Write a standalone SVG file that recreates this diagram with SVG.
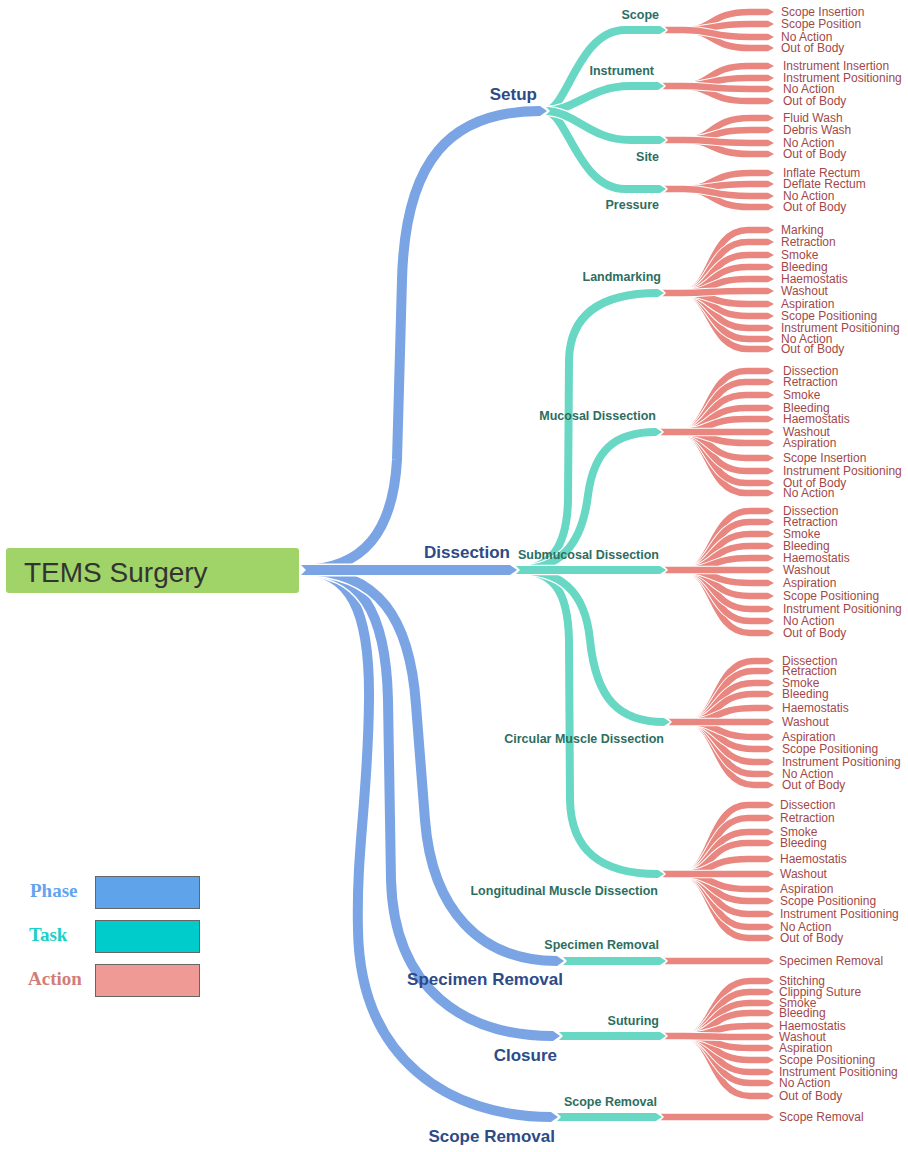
<svg xmlns="http://www.w3.org/2000/svg" width="908" height="1152" viewBox="0 0 908 1152">
<style>
marker{overflow:visible}
.pw{fill:none;stroke:#fff;stroke-width:13}
.p{fill:none;stroke:#7ba4e4;stroke-width:10;marker-end:url(#mp);marker-start:url(#np)}
.tw{fill:none;stroke:#fff;stroke-width:10.5}
.t{fill:none;stroke:#68d8c4;stroke-width:8;marker-end:url(#mt);marker-start:url(#nt)}
.aw{fill:none;stroke:#fff;stroke-width:8.5}
.a{fill:none;stroke:#e8867f;stroke-width:6.5;marker-end:url(#ma);marker-start:url(#na)}
text{font-family:"Liberation Sans",Arial,sans-serif}
.pl{font-size:17px;font-weight:bold;fill:#2e4a87;text-anchor:end}
.tl{font-size:12.5px;font-weight:bold;fill:#2e6e5f;text-anchor:end}
.al{font-size:12px;fill:#a34848;dominant-baseline:central}
.lg{font-family:"Liberation Serif","Times New Roman",serif;font-size:19px;font-weight:bold}
</style>
<defs>
<marker id="mp" markerUnits="userSpaceOnUse" markerWidth="8" markerHeight="12" refX="0" refY="6" orient="auto"><path d="M0,1L7,6L0,11Z" fill="#7ba4e4"/></marker>
<marker id="np" markerUnits="userSpaceOnUse" markerWidth="8" markerHeight="14" refX="0" refY="6" orient="auto"><path d="M-0.5,-0.5L6,6L-0.5,12.5Z" fill="#fff"/></marker>
<marker id="mt" markerUnits="userSpaceOnUse" markerWidth="8" markerHeight="10" refX="0" refY="5" orient="auto"><path d="M0,1L6,5L0,9Z" fill="#68d8c4"/></marker>
<marker id="nt" markerUnits="userSpaceOnUse" markerWidth="8" markerHeight="12" refX="0" refY="5" orient="auto"><path d="M-0.5,-0.5L5,5L-0.5,10.5Z" fill="#fff"/></marker>
<marker id="ma" markerUnits="userSpaceOnUse" markerWidth="7" markerHeight="8" refX="0" refY="4" orient="auto"><path d="M0,0.75L6,4L0,7.25Z" fill="#e8867f"/></marker>
<marker id="na" markerUnits="userSpaceOnUse" markerWidth="6" markerHeight="9" refX="0" refY="4" orient="auto"><path d="M-0.5,-0.5L4,4L-0.5,8.5Z" fill="#fff"/></marker>
</defs>
<rect width="908" height="1152" fill="#fff"/>

<g id="connectors">
<g id="action-links">
<!-- Scope -->
<path class="aw" d="M664,30L684,30C714,30 710,12 750,12L768,12"/><path class="a" d="M664,30L684,30C714,30 710,12 750,12L768,12"/>
<path class="aw" d="M664,30L684,30C714,30 710,48 750,48L768,48"/><path class="a" d="M664,30L684,30C714,30 710,48 750,48L768,48"/>
<path class="aw" d="M664,30L684,30C714,30 710,24 750,24L768,24"/><path class="a" d="M664,30L684,30C714,30 710,24 750,24L768,24"/>
<path class="aw" d="M664,30L684,30C714,30 710,37 750,37L768,37"/><path class="a" d="M664,30L684,30C714,30 710,37 750,37L768,37"/>
<!-- Instrument -->
<path class="aw" d="M662,86L682,86C712,86 708,66 748,66L768,66"/><path class="a" d="M662,86L682,86C712,86 708,66 748,66L768,66"/>
<path class="aw" d="M662,86L682,86C712,86 708,101 748,101L768,101"/><path class="a" d="M662,86L682,86C712,86 708,101 748,101L768,101"/>
<path class="aw" d="M662,86L682,86C712,86 708,78 748,78L768,78"/><path class="a" d="M662,86L682,86C712,86 708,78 748,78L768,78"/>
<path class="aw" d="M662,86L682,86C712,86 708,89 748,89L768,89"/><path class="a" d="M662,86L682,86C712,86 708,89 748,89L768,89"/>
<!-- Site -->
<path class="aw" d="M664,140L684,140C714,140 710,118 750,118L768,118"/><path class="a" d="M664,140L684,140C714,140 710,118 750,118L768,118"/>
<path class="aw" d="M664,140L684,140C714,140 710,154 750,154L768,154"/><path class="a" d="M664,140L684,140C714,140 710,154 750,154L768,154"/>
<path class="aw" d="M664,140L684,140C714,140 710,130 750,130L768,130"/><path class="a" d="M664,140L684,140C714,140 710,130 750,130L768,130"/>
<path class="aw" d="M664,140L684,140C714,140 710,143 750,143L768,143"/><path class="a" d="M664,140L684,140C714,140 710,143 750,143L768,143"/>
<!-- Pressure -->
<path class="aw" d="M664,189L684,189C714,189 710,173 750,173L768,173"/><path class="a" d="M664,189L684,189C714,189 710,173 750,173L768,173"/>
<path class="aw" d="M664,189L684,189C714,189 710,207 750,207L768,207"/><path class="a" d="M664,189L684,189C714,189 710,207 750,207L768,207"/>
<path class="aw" d="M664,189L684,189C714,189 710,184 750,184L768,184"/><path class="a" d="M664,189L684,189C714,189 710,184 750,184L768,184"/>
<path class="aw" d="M664,189L684,189C714,189 710,196 750,196L768,196"/><path class="a" d="M664,189L684,189C714,189 710,196 750,196L768,196"/>
<!-- Landmarking -->
<path class="aw" d="M662,293L682,293C712,293 708,230 748,230L768,230"/><path class="a" d="M662,293L682,293C712,293 708,230 748,230L768,230"/>
<path class="aw" d="M662,293L682,293C712,293 708,349 748,349L768,349"/><path class="a" d="M662,293L682,293C712,293 708,349 748,349L768,349"/>
<path class="aw" d="M662,293L682,293C712,293 708,242 748,242L768,242"/><path class="a" d="M662,293L682,293C712,293 708,242 748,242L768,242"/>
<path class="aw" d="M662,293L682,293C712,293 708,339 748,339L768,339"/><path class="a" d="M662,293L682,293C712,293 708,339 748,339L768,339"/>
<path class="aw" d="M662,293L682,293C712,293 708,255 748,255L768,255"/><path class="a" d="M662,293L682,293C712,293 708,255 748,255L768,255"/>
<path class="aw" d="M662,293L682,293C712,293 708,328 748,328L768,328"/><path class="a" d="M662,293L682,293C712,293 708,328 748,328L768,328"/>
<path class="aw" d="M662,293L682,293C712,293 708,267 748,267L768,267"/><path class="a" d="M662,293L682,293C712,293 708,267 748,267L768,267"/>
<path class="aw" d="M662,293L682,293C712,293 708,316 748,316L768,316"/><path class="a" d="M662,293L682,293C712,293 708,316 748,316L768,316"/>
<path class="aw" d="M662,293L682,293C712,293 708,279 748,279L768,279"/><path class="a" d="M662,293L682,293C712,293 708,279 748,279L768,279"/>
<path class="aw" d="M662,293L682,293C712,293 708,304 748,304L768,304"/><path class="a" d="M662,293L682,293C712,293 708,304 748,304L768,304"/>
<path class="aw" d="M662,293L682,293C712,293 708,291 748,291L768,291"/><path class="a" d="M662,293L682,293C712,293 708,291 748,291L768,291"/>
<!-- Mucosal -->
<path class="aw" d="M660,432L680,432C710,432 706,371 746,371L768,371"/><path class="a" d="M660,432L680,432C710,432 706,371 746,371L768,371"/>
<path class="aw" d="M660,432L680,432C710,432 706,493 746,493L768,493"/><path class="a" d="M660,432L680,432C710,432 706,493 746,493L768,493"/>
<path class="aw" d="M660,432L680,432C710,432 706,382 746,382L768,382"/><path class="a" d="M660,432L680,432C710,432 706,382 746,382L768,382"/>
<path class="aw" d="M660,432L680,432C710,432 706,483 746,483L768,483"/><path class="a" d="M660,432L680,432C710,432 706,483 746,483L768,483"/>
<path class="aw" d="M660,432L680,432C710,432 706,395 746,395L768,395"/><path class="a" d="M660,432L680,432C710,432 706,395 746,395L768,395"/>
<path class="aw" d="M660,432L680,432C710,432 706,471 746,471L768,471"/><path class="a" d="M660,432L680,432C710,432 706,471 746,471L768,471"/>
<path class="aw" d="M660,432L680,432C710,432 706,408 746,408L768,408"/><path class="a" d="M660,432L680,432C710,432 706,408 746,408L768,408"/>
<path class="aw" d="M660,432L680,432C710,432 706,458 746,458L768,458"/><path class="a" d="M660,432L680,432C710,432 706,458 746,458L768,458"/>
<path class="aw" d="M660,432L680,432C710,432 706,419 746,419L768,419"/><path class="a" d="M660,432L680,432C710,432 706,419 746,419L768,419"/>
<path class="aw" d="M660,432L680,432C710,432 706,443 746,443L768,443"/><path class="a" d="M660,432L680,432C710,432 706,443 746,443L768,443"/>
<path class="aw" d="M660,432L680,432C710,432 706,432 746,432L768,432"/><path class="a" d="M660,432L680,432C710,432 706,432 746,432L768,432"/>
<!-- Submucosal -->
<path class="aw" d="M664,570L684,570C714,570 710,511 750,511L768,511"/><path class="a" d="M664,570L684,570C714,570 710,511 750,511L768,511"/>
<path class="aw" d="M664,570L684,570C714,570 710,633 750,633L768,633"/><path class="a" d="M664,570L684,570C714,570 710,633 750,633L768,633"/>
<path class="aw" d="M664,570L684,570C714,570 710,522 750,522L768,522"/><path class="a" d="M664,570L684,570C714,570 710,522 750,522L768,522"/>
<path class="aw" d="M664,570L684,570C714,570 710,621 750,621L768,621"/><path class="a" d="M664,570L684,570C714,570 710,621 750,621L768,621"/>
<path class="aw" d="M664,570L684,570C714,570 710,534 750,534L768,534"/><path class="a" d="M664,570L684,570C714,570 710,534 750,534L768,534"/>
<path class="aw" d="M664,570L684,570C714,570 710,609 750,609L768,609"/><path class="a" d="M664,570L684,570C714,570 710,609 750,609L768,609"/>
<path class="aw" d="M664,570L684,570C714,570 710,546 750,546L768,546"/><path class="a" d="M664,570L684,570C714,570 710,546 750,546L768,546"/>
<path class="aw" d="M664,570L684,570C714,570 710,596 750,596L768,596"/><path class="a" d="M664,570L684,570C714,570 710,596 750,596L768,596"/>
<path class="aw" d="M664,570L684,570C714,570 710,558 750,558L768,558"/><path class="a" d="M664,570L684,570C714,570 710,558 750,558L768,558"/>
<path class="aw" d="M664,570L684,570C714,570 710,583 750,583L768,583"/><path class="a" d="M664,570L684,570C714,570 710,583 750,583L768,583"/>
<path class="aw" d="M664,570L684,570C714,570 710,570 750,570L768,570"/><path class="a" d="M664,570L684,570C714,570 710,570 750,570L768,570"/>
<!-- Circular -->
<path class="aw" d="M668,722L688,722C718,722 714,661 754,661L768,661"/><path class="a" d="M668,722L688,722C718,722 714,661 754,661L768,661"/>
<path class="aw" d="M668,722L688,722C718,722 714,785 754,785L768,785"/><path class="a" d="M668,722L688,722C718,722 714,785 754,785L768,785"/>
<path class="aw" d="M668,722L688,722C718,722 714,671 754,671L768,671"/><path class="a" d="M668,722L688,722C718,722 714,671 754,671L768,671"/>
<path class="aw" d="M668,722L688,722C718,722 714,774 754,774L768,774"/><path class="a" d="M668,722L688,722C718,722 714,774 754,774L768,774"/>
<path class="aw" d="M668,722L688,722C718,722 714,683 754,683L768,683"/><path class="a" d="M668,722L688,722C718,722 714,683 754,683L768,683"/>
<path class="aw" d="M668,722L688,722C718,722 714,762 754,762L768,762"/><path class="a" d="M668,722L688,722C718,722 714,762 754,762L768,762"/>
<path class="aw" d="M668,722L688,722C718,722 714,694 754,694L768,694"/><path class="a" d="M668,722L688,722C718,722 714,694 754,694L768,694"/>
<path class="aw" d="M668,722L688,722C718,722 714,749 754,749L768,749"/><path class="a" d="M668,722L688,722C718,722 714,749 754,749L768,749"/>
<path class="aw" d="M668,722L688,722C718,722 714,708 754,708L768,708"/><path class="a" d="M668,722L688,722C718,722 714,708 754,708L768,708"/>
<path class="aw" d="M668,722L688,722C718,722 714,737 754,737L768,737"/><path class="a" d="M668,722L688,722C718,722 714,737 754,737L768,737"/>
<path class="aw" d="M668,722L688,722C718,722 714,722 754,722L768,722"/><path class="a" d="M668,722L688,722C718,722 714,722 754,722L768,722"/>
<!-- Longitudinal -->
<path class="aw" d="M662,874L682,874C712,874 708,805 748,805L768,805"/><path class="a" d="M662,874L682,874C712,874 708,805 748,805L768,805"/>
<path class="aw" d="M662,874L682,874C712,874 708,938 748,938L768,938"/><path class="a" d="M662,874L682,874C712,874 708,938 748,938L768,938"/>
<path class="aw" d="M662,874L682,874C712,874 708,818 748,818L768,818"/><path class="a" d="M662,874L682,874C712,874 708,818 748,818L768,818"/>
<path class="aw" d="M662,874L682,874C712,874 708,927 748,927L768,927"/><path class="a" d="M662,874L682,874C712,874 708,927 748,927L768,927"/>
<path class="aw" d="M662,874L682,874C712,874 708,832 748,832L768,832"/><path class="a" d="M662,874L682,874C712,874 708,832 748,832L768,832"/>
<path class="aw" d="M662,874L682,874C712,874 708,914 748,914L768,914"/><path class="a" d="M662,874L682,874C712,874 708,914 748,914L768,914"/>
<path class="aw" d="M662,874L682,874C712,874 708,843 748,843L768,843"/><path class="a" d="M662,874L682,874C712,874 708,843 748,843L768,843"/>
<path class="aw" d="M662,874L682,874C712,874 708,901 748,901L768,901"/><path class="a" d="M662,874L682,874C712,874 708,901 748,901L768,901"/>
<path class="aw" d="M662,874L682,874C712,874 708,859 748,859L768,859"/><path class="a" d="M662,874L682,874C712,874 708,859 748,859L768,859"/>
<path class="aw" d="M662,874L682,874C712,874 708,889 748,889L768,889"/><path class="a" d="M662,874L682,874C712,874 708,889 748,889L768,889"/>
<path class="aw" d="M662,874L682,874C712,874 708,874 748,874L768,874"/><path class="a" d="M662,874L682,874C712,874 708,874 748,874L768,874"/>
<!-- Specimen Removal -->
<path class="a" d="M664,961L768,961"/>
<!-- Suturing -->
<path class="aw" d="M664,1036L684,1036C714,1036 710,981 750,981L768,981"/><path class="a" d="M664,1036L684,1036C714,1036 710,981 750,981L768,981"/>
<path class="aw" d="M664,1036L684,1036C714,1036 710,1096 750,1096L768,1096"/><path class="a" d="M664,1036L684,1036C714,1036 710,1096 750,1096L768,1096"/>
<path class="aw" d="M664,1036L684,1036C714,1036 710,992 750,992L768,992"/><path class="a" d="M664,1036L684,1036C714,1036 710,992 750,992L768,992"/>
<path class="aw" d="M664,1036L684,1036C714,1036 710,1083 750,1083L768,1083"/><path class="a" d="M664,1036L684,1036C714,1036 710,1083 750,1083L768,1083"/>
<path class="aw" d="M664,1036L684,1036C714,1036 710,1003 750,1003L768,1003"/><path class="a" d="M664,1036L684,1036C714,1036 710,1003 750,1003L768,1003"/>
<path class="aw" d="M664,1036L684,1036C714,1036 710,1072 750,1072L768,1072"/><path class="a" d="M664,1036L684,1036C714,1036 710,1072 750,1072L768,1072"/>
<path class="aw" d="M664,1036L684,1036C714,1036 710,1013 750,1013L768,1013"/><path class="a" d="M664,1036L684,1036C714,1036 710,1013 750,1013L768,1013"/>
<path class="aw" d="M664,1036L684,1036C714,1036 710,1060 750,1060L768,1060"/><path class="a" d="M664,1036L684,1036C714,1036 710,1060 750,1060L768,1060"/>
<path class="aw" d="M664,1036L684,1036C714,1036 710,1026 750,1026L768,1026"/><path class="a" d="M664,1036L684,1036C714,1036 710,1026 750,1026L768,1026"/>
<path class="aw" d="M664,1036L684,1036C714,1036 710,1048 750,1048L768,1048"/><path class="a" d="M664,1036L684,1036C714,1036 710,1048 750,1048L768,1048"/>
<path class="aw" d="M664,1036L684,1036C714,1036 710,1037 750,1037L768,1037"/><path class="a" d="M664,1036L684,1036C714,1036 710,1037 750,1037L768,1037"/>
<!-- Scope Removal -->
<path class="a" d="M660,1117L768,1117"/>
</g>

<g id="task-links">
<path class="tw" d="M545,111C567,111 578,30 625,30L660,30"/><path class="t" d="M545,111C567,111 578,30 625,30L660,30"/>
<path class="tw" d="M545,111C567,111 578,189 625,189L660,189"/><path class="t" d="M545,111C567,111 578,189 625,189L660,189"/>
<path class="tw" d="M545,111C575,111 590,86 630,86L658,86"/><path class="t" d="M545,111C575,111 590,86 630,86L658,86"/>
<path class="tw" d="M545,111C575,111 590,140 630,140L660,140"/><path class="t" d="M545,111C575,111 590,140 630,140L660,140"/>

<path class="tw" d="M515,570C552,570 567,545 568,500L569,360C570,315 600,293 658,293"/><path class="t" d="M515,570C552,570 567,545 568,500L569,360C570,315 600,293 658,293"/>
<path class="tw" d="M515,570C553,570 568,590 569,640L570,800C571,850 600,874 658,874"/><path class="t" d="M515,570C553,570 568,590 569,640L570,800C571,850 600,874 658,874"/>
<path class="tw" d="M515,570C560,570 582,545 588,495C594,450 615,432 656,432"/><path class="t" d="M515,570C560,570 582,545 588,495C594,450 615,432 656,432"/>
<path class="tw" d="M515,570C560,570 585,590 590,640C596,700 620,722 664,722"/><path class="t" d="M515,570C560,570 585,590 590,640C596,700 620,722 664,722"/>
<path class="tw" d="M515,570L660,570"/><path class="t" d="M515,570L660,570"/>

<path class="t" d="M562,961L660,961"/>
<path class="t" d="M558,1036L660,1036"/>
<path class="t" d="M556,1117L656,1117"/>
</g>

<g id="phase-links">
<path class="pw" d="M300,570C350,570 370,610 369,700C368,800 356,850 358,930C360,1060 450,1117 551,1117"/><path class="p" d="M300,570C350,570 370,610 369,700C368,800 356,850 358,930C360,1060 450,1117 551,1117"/>
<path class="pw" d="M300,570C360,570 386,610 388,700L391,880C394,990 465,1036 553,1036"/><path class="p" d="M300,570C360,570 386,610 388,700L391,880C394,990 465,1036 553,1036"/>
<path class="pw" d="M300,570C380,570 410,620 416,705L425,820C432,910 480,961 557,961"/><path class="p" d="M300,570C380,570 410,620 416,705L425,820C432,910 480,961 557,961"/>
<path class="pw" d="M300,570C365,570 393,530 397,460L402,280C405,160 450,111 540,111"/><path class="p" d="M300,570C365,570 393,530 397,460L402,280C405,160 450,111 540,111"/>
<path class="pw" d="M300,570L510,570"/><path class="p" d="M300,570L510,570"/>
</g>
</g>

<g id="root">
<rect x="6" y="548" width="293" height="45" rx="3" fill="#a0d468"/>
<text x="24" y="582" font-size="28" fill="#333">TEMS Surgery</text>
</g>

<g id="phase-setup"><text class="pl" x="537" y="100">Setup</text></g>
<g id="phase-dissection"><text class="pl" x="510" y="558">Dissection</text></g>
<g id="phase-specimen-removal"><text class="pl" x="563" y="985">Specimen Removal</text></g>
<g id="phase-closure"><text class="pl" x="557" y="1061">Closure</text></g>
<g id="phase-scope-removal"><text class="pl" x="555" y="1142">Scope Removal</text></g>

<g id="task-scope"><text class="tl" x="659" y="19">Scope</text></g>
<g id="task-instrument"><text class="tl" x="654" y="75">Instrument</text></g>
<g id="task-site"><text class="tl" x="659" y="161">Site</text></g>
<g id="task-pressure"><text class="tl" x="659" y="209">Pressure</text></g>
<g id="task-landmarking"><text class="tl" x="661" y="281">Landmarking</text></g>
<g id="task-mucosal"><text class="tl" x="656" y="420">Mucosal Dissection</text></g>
<g id="task-submucosal"><text class="tl" x="659" y="559">Submucosal Dissection</text></g>
<g id="task-circular"><text class="tl" x="664" y="743">Circular Muscle Dissection</text></g>
<g id="task-longitudinal"><text class="tl" x="658" y="895">Longitudinal Muscle Dissection</text></g>
<g id="task-specimen-removal"><text class="tl" x="659" y="949">Specimen Removal</text></g>
<g id="task-suturing"><text class="tl" x="659" y="1025">Suturing</text></g>
<g id="task-scope-removal"><text class="tl" x="657" y="1106">Scope Removal</text></g>

<g id="actions-scope">
<text class="al" x="781" y="12">Scope Insertion</text>
<text class="al" x="781" y="24">Scope Position</text>
<text class="al" x="781" y="37">No Action</text>
<text class="al" x="781" y="48">Out of Body</text>
</g>
<g id="actions-instrument">
<text class="al" x="783" y="66">Instrument Insertion</text>
<text class="al" x="783" y="78">Instrument Positioning</text>
<text class="al" x="783" y="89">No Action</text>
<text class="al" x="783" y="101">Out of Body</text>
</g>
<g id="actions-site">
<text class="al" x="783" y="118">Fluid Wash</text>
<text class="al" x="783" y="130">Debris Wash</text>
<text class="al" x="783" y="143">No Action</text>
<text class="al" x="783" y="154">Out of Body</text>
</g>
<g id="actions-pressure">
<text class="al" x="783" y="173">Inflate Rectum</text>
<text class="al" x="783" y="184">Deflate Rectum</text>
<text class="al" x="783" y="196">No Action</text>
<text class="al" x="783" y="207">Out of Body</text>
</g>
<g id="actions-landmarking">
<text class="al" x="781" y="230">Marking</text>
<text class="al" x="781" y="242">Retraction</text>
<text class="al" x="781" y="255">Smoke</text>
<text class="al" x="781" y="267">Bleeding</text>
<text class="al" x="781" y="279">Haemostatis</text>
<text class="al" x="781" y="291">Washout</text>
<text class="al" x="781" y="304">Aspiration</text>
<text class="al" x="781" y="316">Scope Positioning</text>
<text class="al" x="781" y="328">Instrument Positioning</text>
<text class="al" x="781" y="339">No Action</text>
<text class="al" x="781" y="349">Out of Body</text>
</g>
<g id="actions-mucosal">
<text class="al" x="783" y="371">Dissection</text>
<text class="al" x="783" y="382">Retraction</text>
<text class="al" x="783" y="395">Smoke</text>
<text class="al" x="783" y="408">Bleeding</text>
<text class="al" x="783" y="419">Haemostatis</text>
<text class="al" x="783" y="432">Washout</text>
<text class="al" x="783" y="443">Aspiration</text>
<text class="al" x="783" y="458">Scope Insertion</text>
<text class="al" x="783" y="471">Instrument Positioning</text>
<text class="al" x="783" y="483">Out of Body</text>
<text class="al" x="783" y="493">No Action</text>
</g>
<g id="actions-submucosal">
<text class="al" x="783" y="511">Dissection</text>
<text class="al" x="783" y="522">Retraction</text>
<text class="al" x="783" y="534">Smoke</text>
<text class="al" x="783" y="546">Bleeding</text>
<text class="al" x="783" y="558">Haemostatis</text>
<text class="al" x="783" y="570">Washout</text>
<text class="al" x="783" y="583">Aspiration</text>
<text class="al" x="783" y="596">Scope Positioning</text>
<text class="al" x="783" y="609">Instrument Positioning</text>
<text class="al" x="783" y="621">No Action</text>
<text class="al" x="783" y="633">Out of Body</text>
</g>
<g id="actions-circular">
<text class="al" x="782" y="661">Dissection</text>
<text class="al" x="782" y="671">Retraction</text>
<text class="al" x="782" y="683">Smoke</text>
<text class="al" x="782" y="694">Bleeding</text>
<text class="al" x="782" y="708">Haemostatis</text>
<text class="al" x="782" y="722">Washout</text>
<text class="al" x="782" y="737">Aspiration</text>
<text class="al" x="782" y="749">Scope Positioning</text>
<text class="al" x="782" y="762">Instrument Positioning</text>
<text class="al" x="782" y="774">No Action</text>
<text class="al" x="782" y="785">Out of Body</text>
</g>
<g id="actions-longitudinal">
<text class="al" x="780" y="805">Dissection</text>
<text class="al" x="780" y="818">Retraction</text>
<text class="al" x="780" y="832">Smoke</text>
<text class="al" x="780" y="843">Bleeding</text>
<text class="al" x="780" y="859">Haemostatis</text>
<text class="al" x="780" y="874">Washout</text>
<text class="al" x="780" y="889">Aspiration</text>
<text class="al" x="780" y="901">Scope Positioning</text>
<text class="al" x="780" y="914">Instrument Positioning</text>
<text class="al" x="780" y="927">No Action</text>
<text class="al" x="780" y="938">Out of Body</text>
</g>
<g id="actions-specimen-removal">
<text class="al" x="779" y="961">Specimen Removal</text>
</g>
<g id="actions-suturing">
<text class="al" x="779" y="981">Stitching</text>
<text class="al" x="779" y="992">Clipping Suture</text>
<text class="al" x="779" y="1003">Smoke</text>
<text class="al" x="779" y="1013">Bleeding</text>
<text class="al" x="779" y="1026">Haemostatis</text>
<text class="al" x="779" y="1037">Washout</text>
<text class="al" x="779" y="1048">Aspiration</text>
<text class="al" x="779" y="1060">Scope Positioning</text>
<text class="al" x="779" y="1072">Instrument Positioning</text>
<text class="al" x="779" y="1083">No Action</text>
<text class="al" x="779" y="1096">Out of Body</text>
</g>
<g id="actions-scope-removal">
<text class="al" x="779" y="1117">Scope Removal</text>
</g>

<g id="legend">
<text class="lg" x="30" y="897" fill="#63a4ee">Phase</text>
<rect x="95.5" y="876.5" width="104" height="32" fill="#5fa3ea" stroke="#666"/>
<text class="lg" x="29" y="941" fill="#1ccfc9">Task</text>
<rect x="95.5" y="920.5" width="104" height="32" fill="#00cccc" stroke="#666"/>
<text class="lg" x="28" y="985" fill="#d27d7a">Action</text>
<rect x="95.5" y="964.5" width="104" height="32" fill="#f09a96" stroke="#666"/>
</g>
</svg>
